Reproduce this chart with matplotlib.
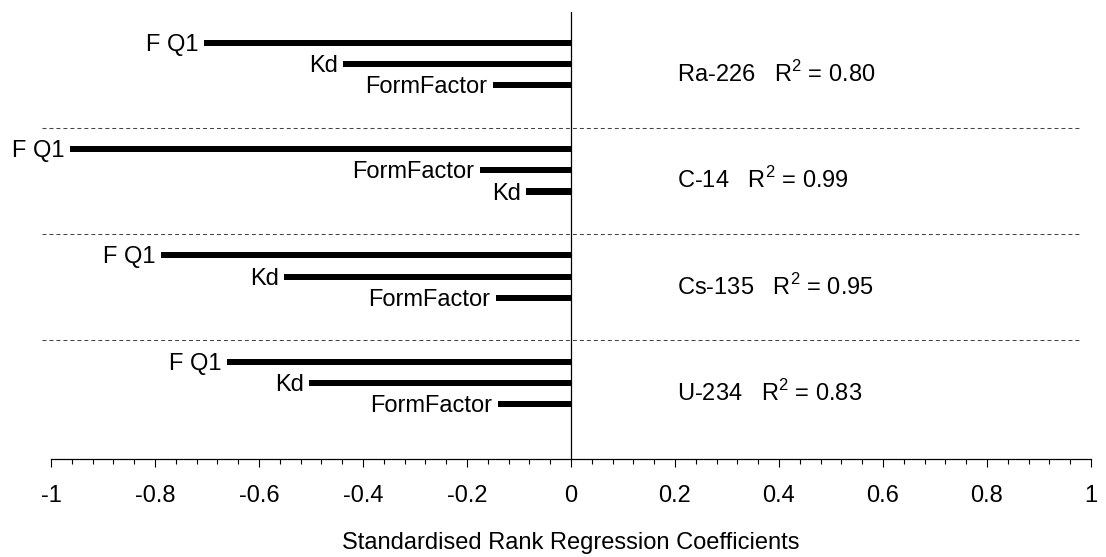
import numpy as np
import matplotlib
matplotlib.use('Agg')
import matplotlib.pyplot as plt
from matplotlib.ticker import MultipleLocator

plt.rcParams['font.family'] = ['Liberation Sans', 'DejaVu Sans']
plt.rcParams['mathtext.fontset'] = 'custom'
plt.rcParams['mathtext.rm'] = 'Liberation Sans'
plt.rcParams['axes.unicode_minus'] = False

# nuclides (top to bottom) and their R^2
nuclides = ['Ra-226', 'C-14', 'Cs-135', 'U-234']
r2 = ['0.80', '0.99', '0.95', '0.83']

# parameters in the order they are drawn in each group
params = [['F Q1', 'Kd', 'FormFactor'],
          ['F Q1', 'FormFactor', 'Kd'],
          ['F Q1', 'Kd', 'FormFactor'],
          ['F Q1', 'Kd', 'FormFactor']]
srrc = [[-0.706, -0.438, -0.150],
        [-0.963, -0.175, -0.086],
        [-0.789, -0.551, -0.144],
        [-0.662, -0.503, -0.140]]

xticks = [-1, -0.8, -0.6, -0.4, -0.2, 0, 0.2, 0.4, 0.6, 0.8, 1]
xtick_labels = ['-1', '-0.8', '-0.6', '-0.4', '-0.2', '0', '0.2', '0.4', '0.6', '0.8', '1']

fs = 17
fig = plt.figure(figsize=(11.06, 5.57), dpi=100)
ax = fig.add_axes([0.0461, 0.176, 0.9403, 0.8025])

for g in range(len(nuclides)):
    ys = g + np.array([-0.2, 0.0, 0.2])
    ax.barh(ys, srrc[g], height=0.057, color='black', edgecolor='none')
    for y, v, p in zip(ys, srrc[g], params[g]):
        ax.annotate(p, (v, y), xytext=(-4, -1.5), textcoords='offset points',
                    ha='right', va='center', fontsize=fs)
    ax.text(0.204, g + 0.17, nuclides[g] + '   R$^{2}$ = ' + r2[g],
            ha='left', va='baseline', fontsize=fs)
    if g < len(nuclides) - 1:
        ax.plot([-1.017, 0.977], [g + 0.6, g + 0.6], color='#444444',
                lw=0.75, dashes=(3.8, 2.9), clip_on=False)

ax.axvline(0, color='black', lw=0.9)

ax.set_xlim(-1, 1)
ax.set_ylim(3.716, -0.489)
ax.set_xticks(xticks)
ax.set_xticklabels(xtick_labels, fontsize=fs)
ax.xaxis.set_minor_locator(MultipleLocator(0.04))
ax.tick_params(axis='x', which='major', length=5.5, width=0.8, pad=13, direction='out')
ax.tick_params(axis='x', which='minor', length=3.5, width=0.8, direction='out')
ax.set_yticks([])
for s in ['left', 'right', 'top']:
    ax.spines[s].set_visible(False)
ax.spines['bottom'].set_linewidth(0.9)
ax.set_xlabel('Standardised Rank Regression Coefficients', fontsize=fs, labelpad=18)

fig.savefig('out.png', dpi=100)
